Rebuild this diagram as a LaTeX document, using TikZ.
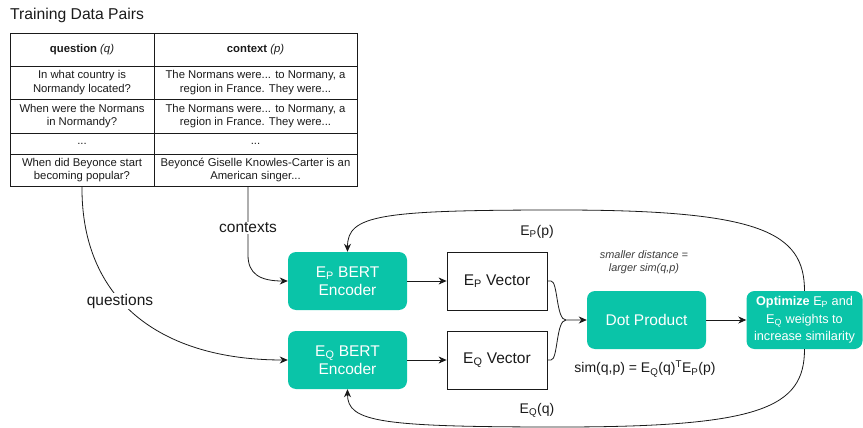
\documentclass[tikz,border=0pt]{standalone}
\usepackage{fontspec}
\setmainfont{Liberation Sans}
\usetikzlibrary{arrows.meta,calc}
\definecolor{tealbg}{HTML}{0AC4A8}
\definecolor{ink}{HTML}{1A1A1A}
\begin{document}
\begin{tikzpicture}[x=1pt,y=-1pt,
  cell/.style={draw=ink, line width=0.8pt, inner sep=1pt, align=center, text=ink,
    font=\fontsize{11.3}{13.3}\selectfont},
  tealbox/.style={fill=tealbg, rounded corners=8pt, text=white, align=center,
    minimum width=119pt, minimum height=58pt, inner sep=2pt,
    font=\fontsize{15.5}{18.5}\selectfont},
  vecbox/.style={draw=ink, line width=0.8pt, fill=white, align=center, text=ink,
    minimum width=100pt, minimum height=58pt, font=\fontsize{15.5}{18.5}\selectfont},
  arr/.style={draw=ink, line width=0.8pt, -{Stealth[length=8pt,width=7pt,inset=2.5pt]}},
  conn/.style={draw=ink, line width=0.8pt},
  lbl/.style={text=ink, inner sep=1pt, font=\fontsize{15.5}{18}\selectfont},
  smalllbl/.style={text=ink, inner sep=1pt, font=\fontsize{14}{16}\selectfont}
]
\useasboundingbox (0,0) rectangle (863,428);

% title
\node[anchor=west, text=ink, inner sep=0pt, font=\fontsize{15.7}{18}\selectfont] (title) at (10,15) {Training Data Pairs};

% table
\node[cell, minimum width=144pt, minimum height=33pt] (q0) at (82,49.5) {\textbf{question} \textit{(q)}};
\node[cell, minimum width=203pt, minimum height=33pt] (c0) at (255.5,49.5) {\textbf{context} \textit{(p)}};
\node[cell, minimum width=144pt, minimum height=33pt] (q1) at (82,82.5) {In what country is\\Normandy located?};
\node[cell, minimum width=203pt, minimum height=33pt] (c1) at (255.5,82.5) {The Normans were... to Normany, a\\region in France. They were...};
\node[cell, minimum width=144pt, minimum height=34pt] (q2) at (82,116) {When were the Normans\\in Normandy?};
\node[cell, minimum width=203pt, minimum height=34pt] (c2) at (255.5,116) {The Normans were... to Normany, a\\region in France. They were...};
\node[cell, minimum width=144pt, minimum height=21pt] (q3) at (82,143.5) {...};
\node[cell, minimum width=203pt, minimum height=21pt] (c3) at (255.5,143.5) {...};
\node[cell, minimum width=144pt, minimum height=32pt] (q4) at (82,170) {When did Beyonce start\\becoming popular?};
\node[cell, minimum width=203pt, minimum height=32pt] (c4) at (255.5,170) {Beyoncé Giselle Knowles-Carter is an\\American singer...};

% boxes
\node[tealbox] (epenc) at (347.5,281) {E\textsubscript{P} BERT\\Encoder};
\node[tealbox] (eqenc) at (347.5,360) {E\textsubscript{Q} BERT\\Encoder};
\node[vecbox] (epv) at (497,281) {E\textsubscript{P} Vector};
\node[vecbox] (eqv) at (497,360) {E\textsubscript{Q} Vector};
\node[tealbox] (dot) at (646.5,320) {Dot Product};
\node[tealbox, minimum width=116pt, font=\fontsize{12.7}{17.3}\selectfont] (opt) at (804.5,320)
  {\textbf{Optimize} E\textsubscript{P} and\\E\textsubscript{Q} weights to\\increase similarity};

% inputs
\draw[arr] (q4.south) .. controls (81,300) and (160,360) .. (eqenc.west);
\draw[arr] ([xshift=-7.5pt]c4.south) -- (248,255) .. controls (248,274) and (260,281) .. (epenc.west);
\node[lbl, fill=white] (ctxlbl) at (248,228) {contexts};
\node[lbl, fill=white] (qlbl) at (120,301) {questions};

% encoder -> vector
\draw[arr] (epenc) -- (epv);
\draw[arr] (eqenc) -- (eqv);

% merge
\coordinate (merge) at (566,320);
\draw[arr] (epv.east) -- (551,281) .. controls (558,281) and (556,320) .. (merge) -- (dot.west);
\draw[conn] (eqv.east) -- (551,360) .. controls (558,360) and (556,320) .. (merge);

% dot -> optimize
\draw[arr] (dot) -- (opt);

% feedback loops
\draw[arr] (opt.north) .. controls (804.5,232) and (760,210) .. (560,210)
  .. controls (380,210) and (347.5,215) .. (epenc.north);
\draw[arr] (opt.south) .. controls (804.5,408) and (760,427) .. (560,427)
  .. controls (380,427) and (347.5,422) .. (eqenc.south);

% labels
\node[smalllbl] (eplbl) at (537,232) {E\textsubscript{P}(p)};
\node[smalllbl] (eqlbl) at (537,410) {E\textsubscript{Q}(q)};
\node[text=ink!85, align=center, inner sep=0pt, font=\fontsize{10.9}{13.3}\selectfont\itshape] (note) at (644,262)
  {smaller distance =\\larger sim(q,p)};
\node[smalllbl] (sim) at (645,369) {sim(q,p) = E\textsubscript{Q}(q)\textsuperscript{T}E\textsubscript{P}(p)};
\end{tikzpicture}
\end{document}
